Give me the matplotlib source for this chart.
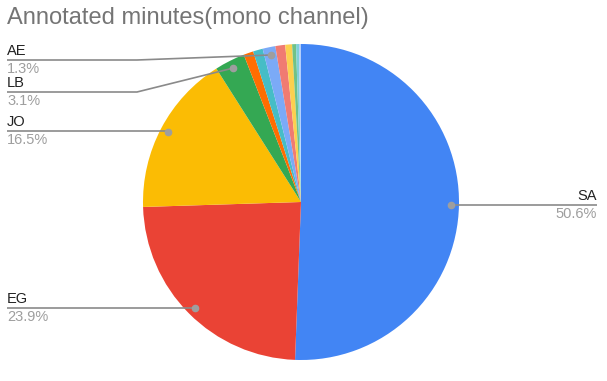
import matplotlib
matplotlib.use("Agg")
import matplotlib.pyplot as plt
import numpy as np

plt.rcParams['font.family'] = ['Liberation Sans', 'DejaVu Sans']

# data (small unlabeled slices estimated)
regions = ['SA', 'EG', 'JO', 'LB', 'KW', 'QA', 'AE', 'MA', 'IQ', 'OM', 'SY', 'BH']
shares = [50.6, 23.9, 16.5, 3.1, 1.0, 1.0, 1.3, 1.0, 0.7, 0.4, 0.3, 0.2]
colors = ['#4285F4', '#EA4335', '#FBBC04', '#34A853', '#FF6D01', '#46BDC6',
          '#7BAAF7', '#F07B72', '#FCD04F', '#71C287', '#7ED1D7', '#B3CEFB']
labeled = ['SA', 'EG', 'JO', 'LB', 'AE']

W, H = 607, 381
fig = plt.figure(figsize=(W / 100, H / 100), dpi=100)
ax = fig.add_axes([0, 0, 1, 1])

cx, cy, r = 301, H - 202, 158
wedges, _ = ax.pie(shares, colors=colors, startangle=90, counterclock=False,
                   center=(cx, cy), radius=r, wedgeprops=dict(linewidth=0),
                   frame=True)
ax.set_xlim(0, W)
ax.set_ylim(0, H)
ax.set_aspect('equal')
ax.axis('off')

fig.text(7 / W, 1 - 18 / H, 'Annotated minutes(mono channel)', fontsize=17,
         color='#757575', va='center', ha='left')

# label layout in pixels from top: (text x, line y, elbow x, align)
layout = {
    'SA': (597, 205, None, 'right'),
    'EG': (7, 308, None, 'left'),
    'JO': (7, 131, None, 'left'),
    'LB': (7, 92, 137, 'left'),
    'AE': (7, 60, 137, 'left'),
}

for w, name, val in zip(wedges, regions, shares):
    if name not in labeled:
        continue
    ang = np.deg2rad((w.theta1 + w.theta2) / 2)
    dx = cx + 0.95 * r * np.cos(ang)
    dy = cy + 0.95 * r * np.sin(ang)
    tx, ly, ex, ha = layout[name]
    ly = H - ly
    if ha == 'right':
        xs, ys = [dx, tx], [ly, ly]
    elif ex is None:
        xs, ys = [tx, dx], [ly, ly]
    else:
        xs, ys = [tx, ex, dx], [ly, ly, dy]
    ax.plot(xs, ys, color='#8a8a8a', lw=1.2, solid_capstyle='butt')
    ax.plot([dx], [dy], 'o', color='#9e9e9e', ms=4.5)
    ax.text(tx, ly + 5, name, ha=ha, va='baseline', fontsize=10.5,
            color='#222222')
    ax.text(tx, ly - 13, '%.1f%%' % val, ha=ha, va='baseline', fontsize=10.5,
            color='#9e9e9e')

fig.savefig('out.png', dpi=100)
